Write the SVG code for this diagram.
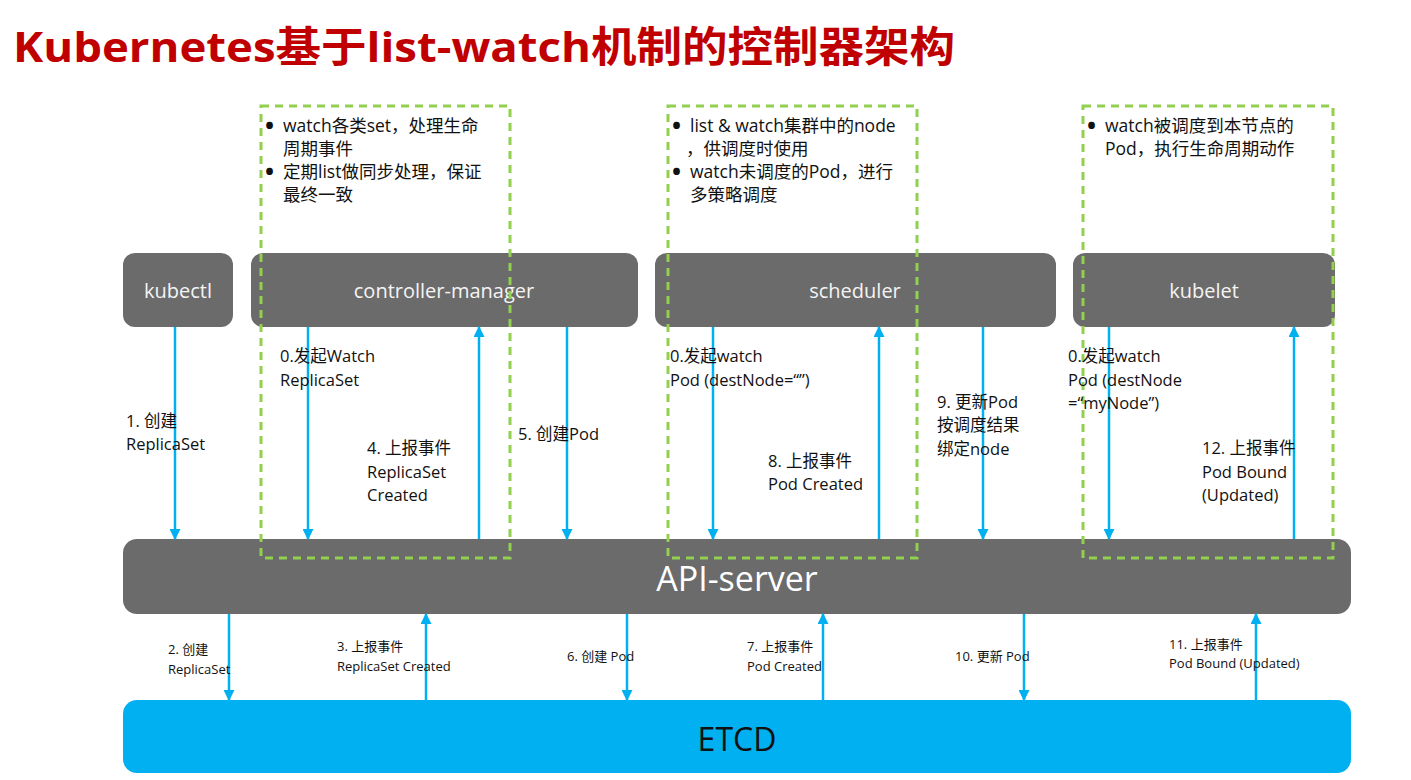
<svg xmlns="http://www.w3.org/2000/svg" width="1411" height="780" viewBox="0 0 1411 780">
<style>
.box{fill:#6b6b6b}
.btxt{fill:#f4f4f4;font-family:"Open Sans","Noto Sans",sans-serif;font-size:20px;text-anchor:middle}
.dash{fill:none;stroke:#92d050;stroke-width:3;stroke-dasharray:8 6}
.arr{stroke:#00b0f0;stroke-width:2.5;fill:none}
.lbl{font-family:"Open Sans","Noto Sans CJK SC",sans-serif;font-size:16.5px;fill:#111}
.sm{font-family:"Open Sans","Noto Sans CJK SC",sans-serif;font-size:13px;fill:#111}
.bul{font-family:"Open Sans","Noto Sans CJK SC",sans-serif;font-size:17.5px;fill:#111}
.dot{font-family:"Open Sans","Noto Sans",sans-serif;font-size:24px;font-weight:bold;fill:#111}
</style>
<defs>
<marker id="ah" viewBox="0 0 10 10" refX="9" refY="5" markerWidth="4.4" markerHeight="4.4" orient="auto" markerUnits="strokeWidth">
<path d="M0,0 L10,5 L0,10 z" fill="#00b0f0"/>
</marker>
</defs>
<rect width="1411" height="780" fill="#fff"/>
<text x="13" y="62" font-family="'Open Sans','Noto Sans CJK SC',sans-serif" font-weight="bold" font-size="42" fill="#c00000" textLength="942" lengthAdjust="spacingAndGlyphs">Kubernetes基于list-watch机制的控制器架构</text>

<g id="kubectl"><rect class="box" x="123" y="253" width="110" height="74" rx="12"/><text class="btxt" x="178" y="298">kubectl</text></g>
<g id="controller-manager"><rect class="box" x="251" y="253" width="387" height="74" rx="12"/><text class="btxt" x="444" y="298">controller-manager</text></g>
<g id="scheduler"><rect class="box" x="655" y="253" width="401" height="74" rx="12"/><text class="btxt" x="855" y="298">scheduler</text></g>
<g id="kubelet"><rect class="box" x="1073" y="253" width="262" height="74" rx="12"/><text class="btxt" x="1204" y="298">kubelet</text></g>
<g id="api-server"><rect class="box" x="123" y="539" width="1228" height="75" rx="14"/><text x="737" y="591" font-family="'Open Sans','Noto Sans',sans-serif" font-size="34" fill="#fff" text-anchor="middle">API-server</text></g>
<g id="etcd"><rect x="123" y="700" width="1228" height="73" rx="14" fill="#00b0f0"/><text x="737" y="751" font-family="'Open Sans','Noto Sans',sans-serif" font-size="32" fill="#111" text-anchor="middle">ETCD</text></g>

<g id="note-controller">
<rect class="dash" x="261" y="106" width="249" height="452"/>
<text class="dot" x="265" y="134">•</text><text class="bul" x="283" y="132">watch各类set，处理生命</text>
<text class="bul" x="283" y="155">周期事件</text>
<text class="dot" x="265" y="180">•</text><text class="bul" x="283" y="178">定期list做同步处理，保证</text>
<text class="bul" x="283" y="201">最终一致</text>
</g>
<g id="note-scheduler">
<rect class="dash" x="668" y="106" width="249" height="452"/>
<text class="dot" x="672" y="134">•</text><text class="bul" x="690" y="132">list &amp; watch集群中的node</text>
<text class="bul" x="686" y="155">，供调度时使用</text>
<text class="dot" x="672" y="180">•</text><text class="bul" x="690" y="178">watch未调度的Pod，进行</text>
<text class="bul" x="690" y="201">多策略调度</text>
</g>
<g id="note-kubelet">
<rect class="dash" x="1083" y="106" width="250" height="452"/>
<text class="dot" x="1087" y="134">•</text><text class="bul" x="1105" y="132">watch被调度到本节点的</text>
<text class="bul" x="1105" y="155">Pod，执行生命周期动作</text>
</g>

<g id="connectors">
<line class="arr" x1="175" y1="327" x2="175" y2="539" marker-end="url(#ah)"/>
<line class="arr" x1="308" y1="327" x2="308" y2="539" marker-end="url(#ah)"/>
<line class="arr" x1="479" y1="539" x2="479" y2="327" marker-end="url(#ah)"/>
<line class="arr" x1="567" y1="327" x2="567" y2="539" marker-end="url(#ah)"/>
<line class="arr" x1="713" y1="327" x2="713" y2="539" marker-end="url(#ah)"/>
<line class="arr" x1="879" y1="539" x2="879" y2="327" marker-end="url(#ah)"/>
<line class="arr" x1="983" y1="327" x2="983" y2="539" marker-end="url(#ah)"/>
<line class="arr" x1="1109" y1="327" x2="1109" y2="539" marker-end="url(#ah)"/>
<line class="arr" x1="1294" y1="539" x2="1294" y2="327" marker-end="url(#ah)"/>
<line class="arr" x1="229" y1="614" x2="229" y2="700" marker-end="url(#ah)"/>
<line class="arr" x1="426" y1="700" x2="426" y2="614" marker-end="url(#ah)"/>
<line class="arr" x1="627" y1="614" x2="627" y2="700" marker-end="url(#ah)"/>
<line class="arr" x1="823" y1="700" x2="823" y2="614" marker-end="url(#ah)"/>
<line class="arr" x1="1024" y1="614" x2="1024" y2="700" marker-end="url(#ah)"/>
<line class="arr" x1="1256" y1="700" x2="1256" y2="614" marker-end="url(#ah)"/>
</g>

<g id="labels">
<text class="lbl" x="126" y="427">1. 创建</text>
<text class="lbl" x="126" y="450">ReplicaSet</text>
<text class="lbl" x="280" y="362">0.发起Watch</text>
<text class="lbl" x="280" y="386">ReplicaSet</text>
<text class="lbl" x="367" y="454">4. 上报事件</text>
<text class="lbl" x="367" y="478">ReplicaSet</text>
<text class="lbl" x="367" y="501">Created</text>
<text class="lbl" x="518" y="440">5. 创建Pod</text>
<text class="lbl" x="670" y="362">0.发起watch</text>
<text class="lbl" x="670" y="386">Pod (destNode=“”)</text>
<text class="lbl" x="768" y="467">8. 上报事件</text>
<text class="lbl" x="768" y="490">Pod Created</text>
<text class="lbl" x="937" y="408">9. 更新Pod</text>
<text class="lbl" x="937" y="431">按调度结果</text>
<text class="lbl" x="937" y="455">绑定node</text>
<text class="lbl" x="1068" y="362">0.发起watch</text>
<text class="lbl" x="1068" y="386">Pod (destNode</text>
<text class="lbl" x="1068" y="409">=“myNode”)</text>
<text class="lbl" x="1202" y="454">12. 上报事件</text>
<text class="lbl" x="1202" y="478">Pod Bound</text>
<text class="lbl" x="1202" y="501">(Updated)</text>
<text class="sm" x="168" y="654">2. 创建</text>
<text class="sm" x="168" y="674">ReplicaSet</text>
<text class="sm" x="337" y="651">3. 上报事件</text>
<text class="sm" x="337" y="671">ReplicaSet Created</text>
<text class="sm" x="567" y="661">6. 创建 Pod</text>
<text class="sm" x="747" y="651">7. 上报事件</text>
<text class="sm" x="747" y="671">Pod Created</text>
<text class="sm" x="955" y="661">10. 更新 Pod</text>
<text class="sm" x="1169" y="649">11. 上报事件</text>
<text class="sm" x="1169" y="668">Pod Bound (Updated)</text>
</g>
</svg>
